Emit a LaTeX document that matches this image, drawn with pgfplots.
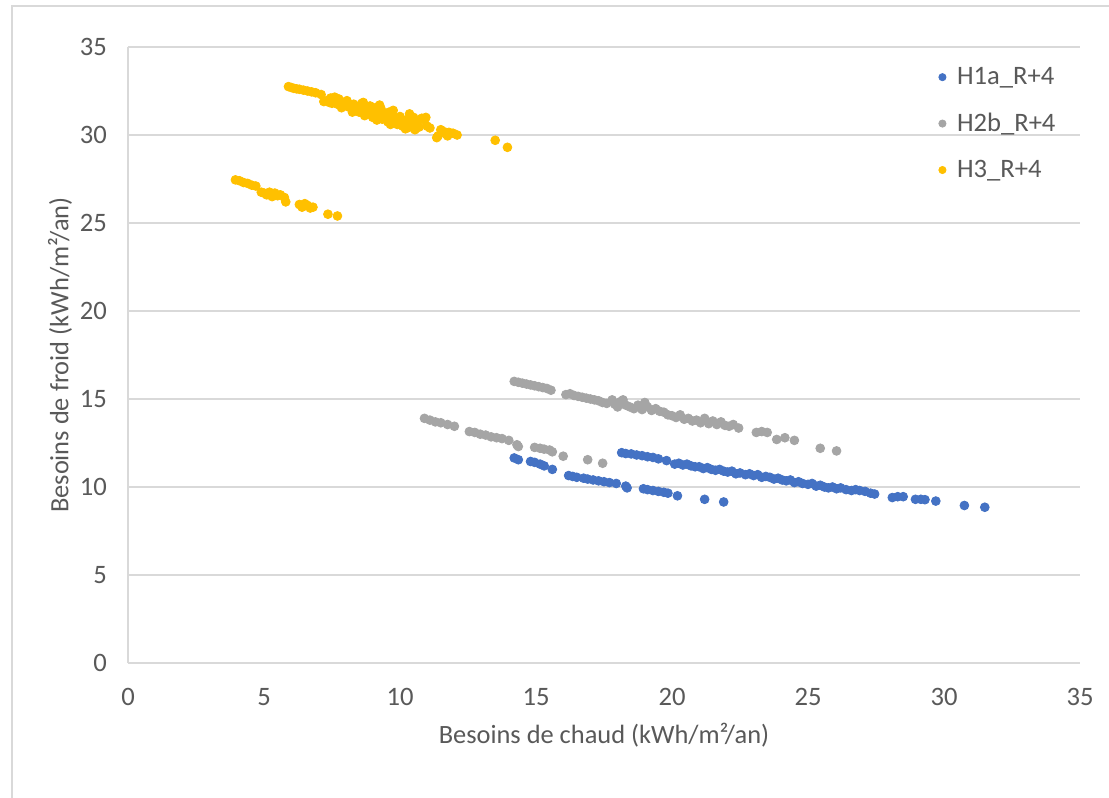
\documentclass[border=0pt]{standalone}
\usepackage{fontspec}
\setmainfont{Carlito}
\usepackage{pgfplots}
\pgfplotsset{compat=1.18}
\definecolor{serA}{HTML}{4472C4}
\definecolor{serB}{HTML}{A5A5A5}
\definecolor{serC}{HTML}{FFC000}
\definecolor{txt}{HTML}{595959}
\definecolor{grid}{HTML}{D9D9D9}
\begin{document}
\begin{tikzpicture}
\useasboundingbox (-64pt,-67.5pt) rectangle (490.5pt,331.5pt);
\fill[white] (-64pt,-67.5pt) rectangle (490.5pt,331.5pt);
\draw[grid, line width=0.8pt] (-58pt,-67.5pt) -- (-58pt,328.5pt) -- (490.5pt,328.5pt);
\begin{axis}[
  at={(0,0)}, anchor=south west,
  scale only axis, width=476pt, height=308pt,
  xmin=0, xmax=35, ymin=0, ymax=35,
  xtick={0,5,...,35}, ytick={0,5,...,35},
  axis lines*=left,
  axis line style={draw=grid, line width=0.8pt},
  ymajorgrids, grid style={draw=grid, line width=0.8pt},
  major tick length=0pt,
  tick label style={font=\fontsize{13.3}{15}\selectfont, text=txt},
  /pgf/number format/assume math mode=true,
  yticklabel style={xshift=-7pt},
  xticklabel style={yshift=-9pt},
  label style={font=\fontsize{13.2}{15}\selectfont, text=txt},
  xlabel={Besoins de chaud (kWh/m²/an)},
  ylabel={Besoins de froid (kWh/m²/an)},
  xlabel style={at={(axis description cs:0.5,-0.117)}, anchor=center},
  ylabel style={at={(axis description cs:-0.0714,0.5)}, anchor=center},
  legend style={at={(rel axis cs:0.845,0.981)}, anchor=north west, draw=none, fill=none,
    font=\fontsize{13.3}{15}\selectfont, text=txt, row sep=8.8pt,
    /tikz/every odd column/.append style={column sep=3.5pt}},
  legend cell align=left,
  legend image post style={mark size=1.8pt},
]
\addplot[only marks, mark=*, mark size=2.2pt, color=serA] coordinates {
(18.15,11.95)(18.3,11.9)(18.5,11.88)(18.7,11.82)(18.9,11.78)(19.1,11.72)(19.3,11.68)(19.5,11.6)(19.8,11.5)
(20.1,11.3)(20.25,11.35)(20.4,11.25)(20.55,11.3)(20.7,11.2)(20.85,11.15)(21.0,11.15)(21.15,11.05)(21.3,11.1)
(21.45,11.0)(21.6,10.95)(21.75,11.0)(21.9,10.9)(22.05,10.85)(22.2,10.9)(22.35,10.75)(22.5,10.8)(22.7,10.7)
(22.85,10.75)(23.0,10.65)(23.15,10.7)(23.3,10.55)(23.45,10.6)(23.6,10.55)(23.75,10.45)(23.9,10.5)(24.05,10.4)
(24.2,10.35)(24.35,10.4)(24.5,10.25)(24.65,10.3)(24.8,10.2)(25.0,10.15)(25.15,10.2)(25.3,10.05)(25.45,10.1)
(25.6,10.0)(25.75,9.95)(25.9,10.0)(26.05,9.9)(26.2,9.95)(26.4,9.85)(26.6,9.8)(26.75,9.85)(26.9,9.8)(27.1,9.75)
(27.3,9.65)(27.45,9.6)(28.1,9.4)(28.3,9.45)(28.5,9.45)(28.95,9.3)(29.15,9.3)(29.3,9.28)(29.7,9.2)(30.75,8.95)(31.5,8.85)
(14.2,11.65)(14.35,11.55)(14.8,11.45)(14.95,11.4)(15.15,11.3)(15.3,11.2)(15.6,11.0)(16.2,10.65)(16.35,10.6)
(16.5,10.55)(16.75,10.5)(16.9,10.45)(17.1,10.4)(17.3,10.35)(17.5,10.3)(17.7,10.25)(17.95,10.2)(18.3,10.05)
(18.35,9.95)(18.95,9.9)(19.1,9.85)(19.3,9.8)(19.5,9.75)(19.7,9.7)(19.85,9.65)(20.2,9.5)(21.2,9.3)(21.9,9.15)
};
\addlegendentry{H1a\_R+4}
\addplot[only marks, mark=*, mark size=2.2pt, color=serB] coordinates {
(14.2,16.0)(14.35,15.95)(14.5,15.9)(14.65,15.85)(14.8,15.8)(14.95,15.75)(15.1,15.7)(15.25,15.65)(15.4,15.6)(15.55,15.5)
(16.1,15.25)(16.25,15.3)(16.4,15.2)(16.55,15.15)(16.7,15.1)(16.85,15.05)(17.0,15.0)(17.15,14.95)(17.3,14.9)(17.45,14.8)(17.6,14.75)
(17.8,14.95)(17.9,14.7)(18.0,14.55)(18.1,14.85)(18.2,14.95)(18.3,14.65)(18.45,14.55)(18.6,14.45)(18.75,14.65)(18.9,14.4)
(19.0,14.8)(19.1,14.55)(19.25,14.35)(19.4,14.45)(19.55,14.3)(19.7,14.25)(19.85,14.1)(20.0,14.05)(20.15,13.95)(20.3,14.1)
(20.45,13.85)(20.6,13.9)(20.75,13.75)(20.9,13.8)(21.05,13.65)(21.2,13.9)(21.35,13.6)(21.5,13.75)(21.65,13.55)(21.8,13.7)
(21.95,13.5)(22.1,13.45)(22.25,13.55)(22.45,13.35)
(23.1,13.1)(23.3,13.15)(23.5,13.1)(23.85,12.7)(24.15,12.8)(24.5,12.65)(25.45,12.2)(26.05,12.05)
(10.9,13.9)(11.1,13.8)(11.3,13.7)(11.5,13.65)(11.75,13.55)(12.0,13.45)(12.55,13.15)(12.75,13.1)(12.95,13.0)(13.15,12.95)
(13.35,12.85)(13.55,12.8)(13.75,12.75)(14.0,12.65)(14.3,12.4)(14.35,12.3)(14.95,12.25)(15.15,12.2)(15.3,12.15)(15.5,12.1)
(15.6,12.0)(16.0,11.75)(16.9,11.55)(17.45,11.35)
};
\addlegendentry{H2b\_R+4}
\addplot[only marks, mark=*, mark size=2.2pt, color=serC] coordinates {
(5.9,32.75)(6.0,32.7)(6.1,32.65)(6.2,32.62)(6.3,32.6)(6.45,32.55)(6.6,32.5)(6.75,32.45)(6.9,32.4)(7.1,32.3)
(7.2,31.9)(7.3,31.95)(7.4,31.85)(7.45,32.1)(7.5,31.8)(7.6,32.15)(7.7,31.75)(7.75,32.05)(7.8,31.9)(7.9,31.7)
(8.0,31.85)(8.05,31.95)(8.1,31.6)(8.2,31.7)(8.3,31.75)(8.35,31.45)(8.45,31.55)(8.5,31.3)
(7.85,31.55)(8.25,31.3)(8.7,31.1)(9.15,30.85)(9.65,30.6)(10.2,30.35)(10.55,30.3)(11.35,29.85)(11.75,29.95)
(8.65,31.85)(9.25,31.7)(9.75,31.4)(10.35,31.2)(10.95,31.0)
(8.6,31.8)(8.7,31.6)(8.75,31.35)(8.85,31.2)(8.9,31.65)(9.0,31.0)(9.05,31.4)(9.1,31.55)(9.2,31.15)(9.3,31.5)
(9.35,30.9)(9.4,31.25)(9.5,31.1)(9.55,30.75)(9.6,31.3)(9.7,30.9)(9.8,31.0)(9.9,30.6)(10.0,31.05)(10.1,30.5)
(10.15,30.8)(10.3,30.9)(10.35,30.45)(10.4,30.65)(10.5,31.0)(10.6,30.7)(10.7,30.45)(10.8,30.95)(10.9,30.85)
(11.0,30.5)(11.1,30.4)(11.5,30.3)(11.4,29.95)(11.6,30.2)(11.7,30.05)(11.8,30.15)(11.95,30.1)(12.1,30.0)
(13.5,29.7)(13.95,29.3)
(3.95,27.45)(4.1,27.4)(4.25,27.3)(4.4,27.25)(4.55,27.15)(4.7,27.1)(4.9,26.75)(5.0,26.7)(5.1,26.6)(5.2,26.75)
(5.3,26.5)(5.4,26.7)(5.5,26.55)(5.6,26.6)(5.75,26.45)(5.8,26.2)(6.3,26.05)(6.4,25.9)(6.5,26.1)(6.6,26.0)
(6.7,25.85)(6.8,25.9)(7.35,25.5)(7.7,25.4)
};
\addlegendentry{H3\_R+4}
\end{axis}
\end{tikzpicture}
\end{document}
